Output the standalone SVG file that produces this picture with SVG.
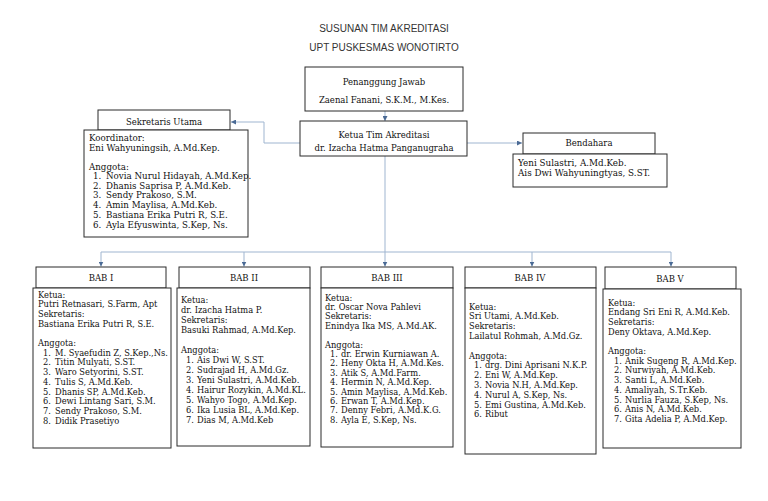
<svg xmlns="http://www.w3.org/2000/svg" width="768" height="501" viewBox="0 0 768 501">
<style>
.title{font-family:"Liberation Sans",Arial,sans-serif;font-size:10px;fill:#333;text-anchor:middle}
.box{fill:#fff;stroke:#2b2b2b;stroke-width:1}
.hd{font-family:"DejaVu Serif","Liberation Serif",serif;font-size:8.5px;fill:#111;text-anchor:middle}
.tx{font-family:"DejaVu Serif","Liberation Serif",serif;font-size:8.3px;fill:#111}
.su{font-size:8.7px}
.bd{font-size:8.8px}
.ln{fill:none;stroke:#9fb5d0;stroke-width:1}
</style>
<defs>
<marker id="ah" viewBox="0 0 6 6" refX="6" refY="3" markerWidth="5" markerHeight="5" markerUnits="userSpaceOnUse" orient="auto">
<path d="M0,0 L6,3 L0,6 z" fill="#4a6a95"/>
</marker>
</defs>
<rect width="768" height="501" fill="#fff"/>
<text class="title" x="384" y="31.5">SUSUNAN TIM AKREDITASI</text>
<text class="title" x="384" y="50.5">UPT PUSKESMAS WONOTIRTO</text>

<g id="connectors">
<path class="ln" d="M385,111 V121" marker-end="url(#ah)"/>
<path class="ln" d="M300,143 H264 V122 H231" marker-end="url(#ah)"/>
<path class="ln" d="M467,143 H522" marker-end="url(#ah)"/>
<path class="ln" d="M385,156 V252 M101,252 H671"/>
<path class="ln" d="M101,252 V266.5" marker-end="url(#ah)"/>
<path class="ln" d="M244,252 V266.5" marker-end="url(#ah)"/>
<path class="ln" d="M385,252 V266.5" marker-end="url(#ah)"/>
<path class="ln" d="M532,252 V266.5" marker-end="url(#ah)"/>
<path class="ln" d="M671,252 V266.5" marker-end="url(#ah)"/>
</g>

<g id="penanggung-jawab">
<rect class="box" x="305" y="67" width="158" height="44"/>
<text class="hd" x="384" y="85">Penanggung Jawab</text>
<text class="hd" x="384" y="103">Zaenal Fanani, S.K.M., M.Kes.</text>
</g>

<g id="ketua">
<rect class="box" x="300" y="121" width="167" height="35"/>
<text class="hd" x="384" y="138">Ketua Tim Akreditasi</text>
<text class="hd" x="384" y="151">dr. Izacha Hatma Panganugraha</text>
</g>

<g id="sekretaris-utama">
<rect class="box" x="98" y="110" width="132" height="20"/>
<text class="hd" x="164" y="124.5">Sekretaris Utama</text>
<rect class="box" x="84" y="130" width="164" height="107"/>
<text class="tx su" x="89" y="140.5">Koordinator:</text>
<text class="tx su" x="89" y="150.5">Eni Wahyuningsih, A.Md.Kep.</text>
<text class="tx su" x="89" y="169.5">Anggota:</text>
<text class="tx su" x="93" y="179">1.</text><text class="tx su" x="106" y="179">Novia Nurul Hidayah, A.Md.Kep.</text>
<text class="tx su" x="93" y="188.7">2.</text><text class="tx su" x="106" y="188.7">Dhanis Saprisa P, A.Md.Keb.</text>
<text class="tx su" x="93" y="198.4">3.</text><text class="tx su" x="106" y="198.4">Sendy Prakoso, S.M.</text>
<text class="tx su" x="93" y="208.1">4.</text><text class="tx su" x="106" y="208.1">Amin Maylisa, A.Md.Keb.</text>
<text class="tx su" x="93" y="217.8">5.</text><text class="tx su" x="106" y="217.8">Bastiana Erika Putri R, S.E.</text>
<text class="tx su" x="93" y="227.5">6.</text><text class="tx su" x="106" y="227.5">Ayla Efyuswinta, S.Kep, Ns.</text>
</g>

<g id="bendahara">
<rect class="box" x="523" y="133" width="132" height="21"/>
<text class="hd" x="589" y="146">Bendahara</text>
<rect class="box" x="513" y="154" width="154" height="33"/>
<text class="tx bd" x="518" y="165.5">Yeni Sulastri, A.Md.Keb.</text>
<text class="tx bd" x="518" y="176">Ais Dwi Wahyuningtyas, S.ST.</text>
</g>

<g id="bab-1">
<rect class="box" x="36" y="267" width="130" height="21"/>
<text class="hd" x="101" y="281">BAB I</text>
<rect class="box" x="33" y="288" width="138" height="160"/>
<text class="tx" x="38" y="297.5">Ketua:</text>
<text class="tx" x="38" y="307.2">Putri Retnasari, S.Farm, Apt</text>
<text class="tx" x="38" y="316.9">Sekretaris:</text>
<text class="tx" x="38" y="326.6">Bastiana Erika Putri R, S.E.</text>
<text class="tx" x="38" y="346">Anggota:</text>
<text class="tx" x="43" y="355.7">1.</text><text class="tx" x="55" y="355.7">M. Syaefudin Z, S.Kep.,Ns.</text>
<text class="tx" x="43" y="365.4">2.</text><text class="tx" x="55" y="365.4">Titin Mulyati, S.ST.</text>
<text class="tx" x="43" y="375.1">3.</text><text class="tx" x="55" y="375.1">Waro Setyorini, S.ST.</text>
<text class="tx" x="43" y="384.8">4.</text><text class="tx" x="55" y="384.8">Tulis S, A.Md.Keb.</text>
<text class="tx" x="43" y="394.5">5.</text><text class="tx" x="55" y="394.5">Dhanis SP, A.Md.Keb.</text>
<text class="tx" x="43" y="404.2">6.</text><text class="tx" x="55" y="404.2">Dewi Lintang Sari, S.M.</text>
<text class="tx" x="43" y="413.9">7.</text><text class="tx" x="55" y="413.9">Sendy Prakoso, S.M.</text>
<text class="tx" x="43" y="423.6">8.</text><text class="tx" x="55" y="423.6">Didik Prasetiyo</text>
</g>

<g id="bab-2">
<rect class="box" x="179" y="267" width="131" height="21"/>
<text class="hd" x="244" y="281">BAB II</text>
<rect class="box" x="177" y="288" width="133" height="158"/>
<text class="tx" x="181" y="302.5">Ketua:</text>
<text class="tx" x="181" y="312.5">dr. Izacha Hatma P.</text>
<text class="tx" x="181" y="322.5">Sekretaris:</text>
<text class="tx" x="181" y="332.5">Basuki Rahmad, A.Md.Kep.</text>
<text class="tx" x="181" y="352.5">Anggota:</text>
<text class="tx" x="186" y="362.5">1.</text><text class="tx" x="197" y="362.5">Ais Dwi W, S.ST.</text>
<text class="tx" x="186" y="372.5">2.</text><text class="tx" x="197" y="372.5">Sudrajad H, A.Md.Gz.</text>
<text class="tx" x="186" y="382.5">3.</text><text class="tx" x="197" y="382.5">Yeni Sulastri, A.Md.Keb.</text>
<text class="tx" x="186" y="392.5">4.</text><text class="tx" x="197" y="392.5">Hairur Rozykin, A.Md.KL.</text>
<text class="tx" x="186" y="402.5">5.</text><text class="tx" x="197" y="402.5">Wahyo Togo, A.Md.Kep.</text>
<text class="tx" x="186" y="412.5">6.</text><text class="tx" x="197" y="412.5">Ika Lusia BL, A.Md.Kep.</text>
<text class="tx" x="186" y="422.5">7.</text><text class="tx" x="197" y="422.5">Dias M, A.Md.Keb</text>
</g>

<g id="bab-3">
<rect class="box" x="321" y="267" width="132" height="21"/>
<text class="hd" x="387" y="281">BAB III</text>
<rect class="box" x="321" y="288" width="132" height="159"/>
<text class="tx" x="325" y="300.5">Ketua:</text>
<text class="tx" x="325" y="309.9">dr. Oscar Nova Pahlevi</text>
<text class="tx" x="325" y="319.3">Sekretaris:</text>
<text class="tx" x="325" y="328.7">Enindya Ika MS, A.Md.AK.</text>
<text class="tx" x="325" y="347.5">Anggota:</text>
<text class="tx" x="330" y="356.9">1.</text><text class="tx" x="341" y="356.9">dr. Erwin Kurniawan A.</text>
<text class="tx" x="330" y="366.3">2.</text><text class="tx" x="341" y="366.3">Heny Okta H, A.Md.Kes.</text>
<text class="tx" x="330" y="375.7">3.</text><text class="tx" x="341" y="375.7">Atik S, A.Md.Farm.</text>
<text class="tx" x="330" y="385.1">4.</text><text class="tx" x="341" y="385.1">Hermin N, A.Md.Kep.</text>
<text class="tx" x="330" y="394.5">5.</text><text class="tx" x="341" y="394.5">Amin Maylisa, A.Md.Keb.</text>
<text class="tx" x="330" y="403.9">6.</text><text class="tx" x="341" y="403.9">Erwan T, A.Md.Kep.</text>
<text class="tx" x="330" y="413.3">7.</text><text class="tx" x="341" y="413.3">Denny Febri, A.Md.K.G.</text>
<text class="tx" x="330" y="422.7">8.</text><text class="tx" x="341" y="422.7">Ayla E, S.Kep, Ns.</text>
</g>

<g id="bab-4">
<rect class="box" x="465" y="267" width="131" height="21"/>
<text class="hd" x="530" y="281">BAB IV</text>
<rect class="box" x="465" y="288" width="131" height="166"/>
<text class="tx" x="469" y="309.5">Ketua:</text>
<text class="tx" x="469" y="319.3">Sri Utami, A.Md.Keb.</text>
<text class="tx" x="469" y="329.1">Sekretaris:</text>
<text class="tx" x="469" y="338.9">Lailatul Rohmah, A.Md.Gz.</text>
<text class="tx" x="469" y="358.5">Anggota:</text>
<text class="tx" x="474" y="368.3">1.</text><text class="tx" x="485" y="368.3">drg. Dini Aprisani N.K.P.</text>
<text class="tx" x="474" y="378.1">2.</text><text class="tx" x="485" y="378.1">Eni W, A.Md.Kep.</text>
<text class="tx" x="474" y="387.9">3.</text><text class="tx" x="485" y="387.9">Novia N.H, A.Md.Kep.</text>
<text class="tx" x="474" y="397.7">4.</text><text class="tx" x="485" y="397.7">Nurul A, S.Kep, Ns.</text>
<text class="tx" x="474" y="407.5">5.</text><text class="tx" x="485" y="407.5">Emi Gustina, A.Md.Keb.</text>
<text class="tx" x="474" y="417.3">6.</text><text class="tx" x="485" y="417.3">Ribut</text>
</g>

<g id="bab-5">
<rect class="box" x="605" y="267" width="131" height="22"/>
<text class="hd" x="670" y="281.5">BAB V</text>
<rect class="box" x="603" y="289" width="138" height="159"/>
<text class="tx" x="608" y="305.5">Ketua:</text>
<text class="tx" x="608" y="315.2">Endang Sri Eni R, A.Md.Keb.</text>
<text class="tx" x="608" y="324.9">Sekretaris:</text>
<text class="tx" x="608" y="334.6">Deny Oktava, A.Md.Kep.</text>
<text class="tx" x="608" y="354">Anggota:</text>
<text class="tx" x="614" y="363.7">1.</text><text class="tx" x="625" y="363.7">Anik Sugeng R, A.Md.Kep.</text>
<text class="tx" x="614" y="373.4">2.</text><text class="tx" x="625" y="373.4">Nurwiyah, A.Md.Keb.</text>
<text class="tx" x="614" y="383.1">3.</text><text class="tx" x="625" y="383.1">Santi L, A.Md.Keb.</text>
<text class="tx" x="614" y="392.8">4.</text><text class="tx" x="625" y="392.8">Amaliyah, S.Tr.Keb.</text>
<text class="tx" x="614" y="402.5">5.</text><text class="tx" x="625" y="402.5">Nurlia Fauza, S.Kep, Ns.</text>
<text class="tx" x="614" y="412.2">6.</text><text class="tx" x="625" y="412.2">Anis N, A.Md.Keb.</text>
<text class="tx" x="614" y="421.9">7.</text><text class="tx" x="625" y="421.9">Gita Adelia P, A.Md.Kep.</text>
</g>
</svg>
